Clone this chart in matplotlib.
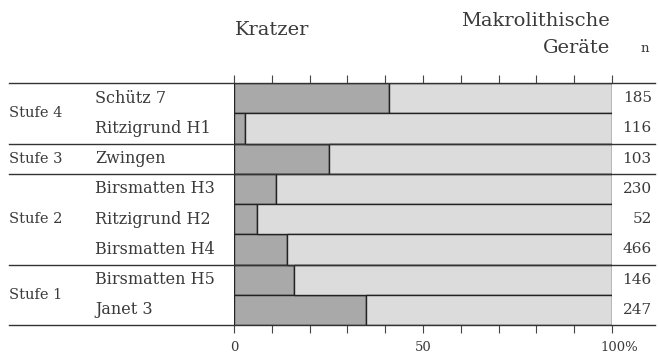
import matplotlib.pyplot as plt

# Anteil Kratzer (%) je Fundstelle, Rest = makrolithische Geräte
stufen = ["Stufe 4", "Stufe 3", "Stufe 2", "Stufe 1"]
stufe_rows = [2, 1, 3, 2]
sites = ["Schütz 7", "Ritzigrund H1", "Zwingen", "Birsmatten H3",
         "Ritzigrund H2", "Birsmatten H4", "Birsmatten H5", "Janet 3"]
kratzer = [41, 3, 25, 11, 6, 14, 16, 35]
n_values = [185, 116, 103, 230, 52, 466, 146, 247]

plt.rcParams['font.family'] = ['DejaVu Serif']
txt = '#3a3a3a'

fig = plt.figure(figsize=(6.58, 3.58), dpi=100)
ax = fig.add_axes([234 / 658, 1 - 325 / 358, 378 / 658, 242 / 358])

rows = list(range(len(sites)))
makro = [100 - k for k in kratzer]
ax.barh(rows, kratzer, height=1.0, color='#a9a9a9', edgecolor='#222222', linewidth=1.0)
ax.barh(rows, makro, left=kratzer, height=1.0, color='#dcdcdc', edgecolor='#222222', linewidth=1.0)

ax.set_xlim(0, 100)
ax.set_ylim(len(sites) - 0.5, -0.5)
for s in ax.spines.values():
    s.set_visible(False)
ax.set_yticks([])
ax.set_xticks(range(0, 101, 10))
ax.set_xticklabels([])
ax.tick_params(axis='x', which='both', top=True, bottom=True, direction='out',
               length=6, width=0.8, color='#444444')

# Trennlinien zwischen den Stufen
x0, x1 = -59.5, 111.5
bounds = [-0.5]
acc = -0.5
for r in stufe_rows:
    acc += r
    bounds.append(acc)
for b in bounds:
    ax.plot([x0, x1], [b, b], color='#333333', lw=1.0, clip_on=False, zorder=3)

# Stufen-Beschriftung
start = -0.5
for name, r in zip(stufen, stufe_rows):
    mid = start + r / 2
    ax.text(-59.5, mid, name, fontsize=10.5, ha='left', va='center', color=txt, clip_on=False)
    start += r

for i, (site, n) in enumerate(zip(sites, n_values)):
    ax.text(-36.8, i, site, fontsize=11.5, ha='left', va='center', color=txt, clip_on=False)
    ax.text(110.5, i, str(n), fontsize=11, ha='right', va='center', color=txt, clip_on=False)

# Achsenbeschriftung unten
for v, lab in [(0, "0"), (50, "50"), (102, "100%")]:
    ax.text(v, 8.25, lab, fontsize=9.5, ha='center', va='center', color=txt, clip_on=False)

# Kopfzeile
fig.text(235 / 658, 1 - 30 / 358, "Kratzer", fontsize=14, ha='left', va='center', color=txt)
fig.text(610 / 658, 1 - 21 / 358, "Makrolithische", fontsize=14, ha='right', va='center', color=txt)
fig.text(610 / 658, 1 - 48 / 358, "Geräte", fontsize=14, ha='right', va='center', color=txt)
fig.text(645 / 658, 1 - 48 / 358, "n", fontsize=9.5, ha='center', va='center', color=txt)

fig.savefig("out.png", dpi=100)
